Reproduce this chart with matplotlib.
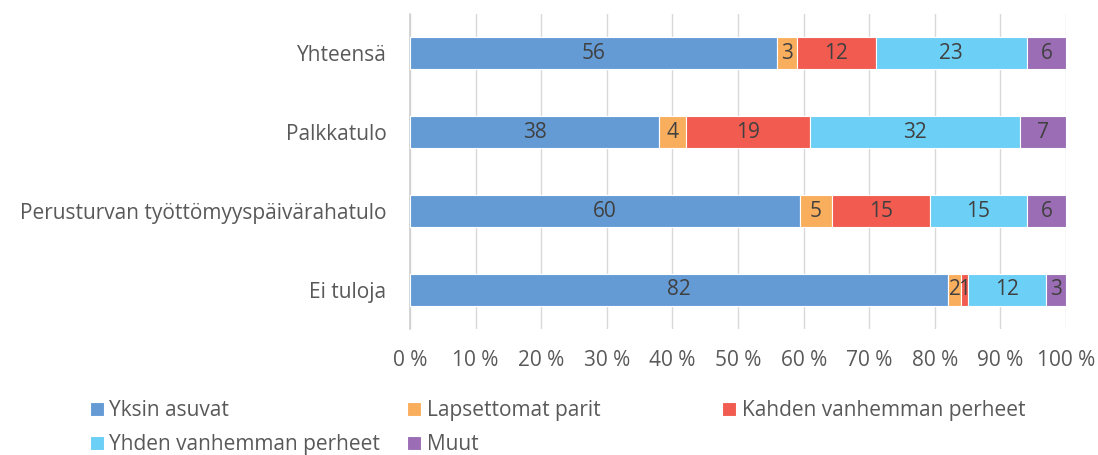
import matplotlib.pyplot as plt
import numpy as np

plt.rcParams['font.family'] = ['Open Sans', 'DejaVu Sans']

categories = ['Yhteensä', 'Palkkatulo', 'Perusturvan työttömyyspäivärahatulo', 'Ei tuloja']
series = ['Yksin asuvat', 'Lapsettomat parit', 'Kahden vanhemman perheet',
          'Yhden vanhemman perheet', 'Muut']
yksin = [56, 38, 60, 82]
lapsettomat = [3, 4, 5, 2]
kahden = [12, 19, 15, 1]
yhden = [23, 32, 15, 12]
muut = [6, 7, 6, 3]
colors = ['#659BD5', '#F9AE5E', '#F15B50', '#6BCFF6', '#9B6DB4']

values = np.array([yksin, lapsettomat, kahden, yhden, muut], dtype=float)
shares = values / values.sum(axis=0) * 100

fs = 15

fig = plt.figure(figsize=(10.98, 4.55), dpi=100)
ax = fig.add_axes([0.3734, 0.276, 0.5975, 0.694])

y = np.arange(len(categories))
left = np.zeros(len(categories))
handles = []
for i, name in enumerate(series):
    bars = ax.barh(y, shares[i], left=left, height=0.4, color=colors[i],
                   edgecolor='white', linewidth=0.8, label=name, zorder=3)
    ax.bar_label(bars, labels=[f'{v:.0f}' for v in values[i]], label_type='center',
                 color='#404040', fontsize=fs)
    handles.append(bars)
    left += shares[i]

ax.set_xlim(0, 100)
ax.set_ylim(len(categories) - 0.5, -0.5)
ax.set_yticks(y)
ax.set_yticklabels(categories)
ax.set_xticks(np.arange(0, 101, 10))
ax.set_xticklabels([f'{t} %' for t in range(0, 101, 10)])
ax.tick_params(length=0, labelsize=fs, colors='#595959')
ax.tick_params(axis='x', pad=15)
ax.tick_params(axis='y', pad=17)
ax.grid(axis='x', color='#D9D9D9', linewidth=1, zorder=0)
for s in ['top', 'right', 'bottom']:
    ax.spines[s].set_visible(False)
ax.spines['left'].set_color('#D0D0D0')
ax.spines['left'].set_linewidth(1.2)

# legend columns placed like Excel (equal spacing)
cols = [[0, 3], [1, 4], [2]]
xs = [0.082, 0.371, 0.658]
for c, x0 in zip(cols, xs):
    leg = fig.legend([handles[k] for k in c], [series[k] for k in c],
                     loc='upper left', bbox_to_anchor=(x0, 0.12), frameon=False,
                     fontsize=fs, handlelength=0.67, handleheight=0.67,
                     handletextpad=0.25, labelspacing=0.6, borderaxespad=0,
                     borderpad=0)
    for t in leg.get_texts():
        t.set_color('#595959')

fig.savefig('out.png', dpi=100)
